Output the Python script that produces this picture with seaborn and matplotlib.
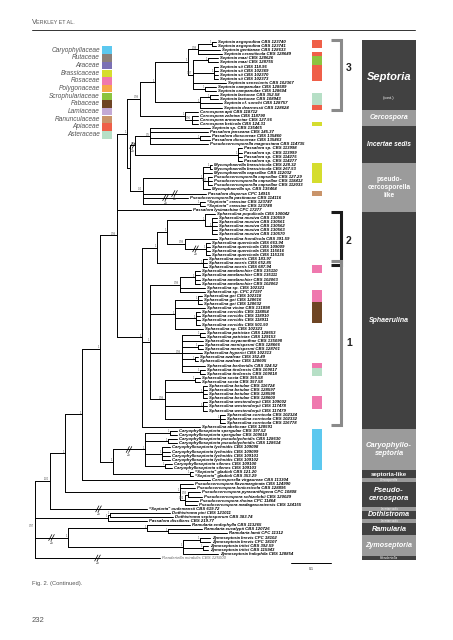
import numpy as np
import pandas as pd
import matplotlib
matplotlib.use("Agg")
import matplotlib.pyplot as plt
import seaborn as sns

sns.set_theme(style="white")
plt.rcParams['font.family'] = ['Liberation Sans', 'DejaVu Sans']

# ---------------- data ----------------
LEAF_LABELS = [
    "Septoria aegopodina CBS 123740", "Septoria aegopodina CBS 123741", "Septoria gentianae CBS 128633",
    "Septoria cerastiicola CBS 128649", "Septoria mazi CBS 128626", "Septoria mazi CBS 128755",
    "Septoria sii CBS 118.96", "Septoria sii CBS 102369", "Septoria sii CBS 102370", "Septoria sii CBS 102373",
    "Septoria senecionis CBS 102367", "Septoria campanulae CBS 128589", "Septoria campanulae CBS 128604",
    "Septoria lactucae CBS 352.58", "Septoria lactucae CBS 108943", "Septoria cf. sonchi CBS 128757",
    "Septoria dearnessii CBS 128624",
    "Cercospora apii CBS 118712", "Cercospora zebrina CBS 118790", "Cercospora armoraciae CBS 127.56",
    "Cercospora beticola CBS 124.31",
    "Septoria sp. CBS 135465", "Passalora janseana CBS 145.37", "Passalora dioscoreae CBS 135460",
    "Passalora dioscoreae CBS 135463", "Pseudocercosporella magnusiana CBS 114735",
    "Passalora sp. CBS 113998", "Passalora sp. CBS 113999", "Passalora sp. CBS 114275", "Passalora sp. CBS 114277",
    "Mycosphaerella brassicicola CBS 228.32", "Mycosphaerella brassicicola CBS 267.53",
    "Mycosphaerella capsellae CBS 112032", "Pseudocercosporella capsellae CBS 127.29",
    "Pseudocercosporella capsellae CBS 118412", "Pseudocercosporella capsellae CBS 112033",
    "Mycosphaerella sp. CBS 135464", "Passalora dispersa CPC 14915", "Pseudocercosporella pastinacae CBS 114116",
    "\u201cSeptoria\u201d crassiae CBS 123747", "\u201cSeptoria\u201d crassiae CBS 123748",
    "Passalora lysimachiae CPC 17277",
    "Sphaerulina populicola CBS 100042", "Sphaerulina musiva CBS 130559", "Sphaerulina musiva CBS 130561",
    "Sphaerulina musiva CBS 130562", "Sphaerulina musiva CBS 130563", "Sphaerulina musiva CBS 130570",
    "Sphaerulina frondicola CBS 391.59", "Sphaerulina quercicola CBS 663.94", "Sphaerulina quercicola CBS 109009",
    "Sphaerulina quercicola CBS 115016", "Sphaerulina quercicola CBS 115136", "Sphaerulina aceris CBS 183.97",
    "Sphaerulina aceris CBS 652.85", "Sphaerulina aceris CBS 687.94", "Sphaerulina amelanchier CBS 135110",
    "Sphaerulina amelanchier CBS 135111", "Sphaerulina amelanchier CBS 102063", "Sphaerulina amelanchier CBS 102062",
    "Sphaerulina sp. CBS 102321", "Sphaerulina sp. CPC 27197", "Sphaerulina gei CBS 102318",
    "Sphaerulina gei CBS 128616", "Sphaerulina gei CBS 128632", "Sphaerulina viciae CBS 131898",
    "Sphaerulina cercidis CBS 118854", "Sphaerulina cercidis CBS 118910", "Sphaerulina cercidis CBS 118911",
    "Sphaerulina cercidis CBS 501.50", "Sphaerulina sp. CBS 102323", "Sphaerulina patriciae CBS 128653",
    "Sphaerulina patriciae CBS 129153", "Sphaerulina oxyacanthae CBS 135098", "Sphaerulina menispermi CBS 128666",
    "Sphaerulina menispermi CBS 128761", "Sphaerulina hyperici CBS 102313", "Sphaerulina azaleae CBS 352.49",
    "Sphaerulina azaleae CBS 128605", "Sphaerulina berberidis CBS 324.52", "Sphaerulina tirolensis CBS 109017",
    "Sphaerulina tirolensis CBS 109018", "Sphaerulina socia CBS 355.58", "Sphaerulina socia CBS 357.58",
    "Sphaerulina betulae CBS 116724", "Sphaerulina betulae CBS 128597", "Sphaerulina betulae CBS 128598",
    "Sphaerulina betulae CBS 128600", "Sphaerulina westendorpii CBS 109002", "Sphaerulina westendorpii CBS 117478",
    "Sphaerulina westendorpii CBS 117479", "Sphaerulina cornicola CBS 102324", "Sphaerulina cornicola CBS 102332",
    "Sphaerulina cornicola CBS 116778", "Sphaerulina abeliceae CBS 128591",
    "Caryophylloseptoria spergulae CBS 397.52", "Caryophylloseptoria spergulae CBS 109010",
    "Caryophylloseptoria pseudolychnidis CBS 128630", "Caryophylloseptoria pseudolychnidis CBS 128614",
    "Caryophylloseptoria lychnidis CBS 109098", "Caryophylloseptoria lychnidis CBS 109099",
    "Caryophylloseptoria lychnidis CBS 109101", "Caryophylloseptoria lychnidis CBS 109102",
    "Caryophylloseptoria silenes CBS 109100", "Caryophylloseptoria silenes CBS 109103",
    "\u201cSeptoria\u201d gladioli CBS 121.20", "\u201cSeptoria\u201d gladioli CBS 353.29",
    "Cercosporella virgaureae CBS 113304",
    "Pseudocercospora flavomarginata CBS 124990", "Pseudocercospora lonicericola CBS 128895",
    "Pseudocercospora pyracanthigena CPC 10808", "Pseudocercospora schizolobii CBS 120029",
    "Pseudocercospora rhoina CPC 11464", "Pseudocercospora madagascariensis CBS 124155",
    "\u201cSeptoria\u201d oudemansii CBS 619.72",
    "Dothistroma pini CBS 121011", "Dothistroma septosporum CBS 383.74", "Passalora dissiliens CBS 219.77",
    "Ramularia endophylla CBS 113265", "Ramularia eucalypti CBS 120726", "Ramularia lamii CPC 11312",
    "Zymoseptoria brevis CPC 18102", "Zymoseptoria brevis CPC 18107", "Zymoseptoria tritici CBS 392.59",
    "Zymoseptoria tritici CBS 115943", "Zymoseptoria halophila CBS 128854",
    "Readeriella mirabilis CBS 125000",
]
OUTGROUP = [126]

# tree (Newick; leaf = index into LEAF_LABELS, internal label = posterior probability,
# branch lengths in subst./site, '#' = shortened branch drawn as "2x")
SEPT = ("((((0:0.01,1:0.01)1:0.035,2:0.055,3:0.06)0.98:0.025,((4:0.025,5:0.025)1:0.0375,"
        "(6:0.01,7:0.01,8:0.01,9:0.01)1:0.0525,10:0.0825,(11:0.0275,12:0.0275)1:0.03)0.87:0.0125)1:0.0825,"
        "((13:0.02,14:0.02)1:0.025,15:0.055,16:0.055)1:0.1125)")
CERC = "(17:0.0325,(18:0.015,19:0.015,20:0.015)0.96:0.0175)"
INC = ("((21:0.15,22:0.145,(23:0.025,24:0.025)1:0.125,25:0.145)0.9:0.0375,"
       "(26:0.01,27:0.01,28:0.01,29:0.01)1:0.2575)")
PSL = ("(((30:0.005,31:0.005)1:0.0175,32:0.0225,(33:0.01,34:0.01,35:0.01)0.97:0.0125,36:0.0175)1:0.15,"
       "37#:0.1575,38#:0.1125,(39:0.0125,40:0.0125)1:0.1425)")
SPH_A = ("(((42:0.025,(43:0.0125,44:0.0125,45:0.0125,46:0.0125,47:0.0125)1:0.0175)1:0.095,"
         "(48:0.08,(49:0.01,50:0.01,51:0.01,52:0.01)1#:0.0525)0.99:0.045)1:0.025,(53:0.01,54:0.01,55:0.01)1:0.115)")
SPH_B1 = "((56:0.0125,57:0.0125,58:0.0125,59:0.0125)1:0.0375,60:0.0625,61:0.0625)"
SPH_B2 = "((62:0.01,63:0.01,64:0.01)1:0.0575,65:0.075,(66:0.01,67:0.01,68:0.01,69:0.01)1:0.0525,70:0.07)"
SPH_B3 = ("((71:0.0125,72:0.0125)1:0.045,73:0.0525,(74:0.0125,75:0.0125)1:0.04,76:0.05,"
          "(77:0.0075,78:0.0075)1:0.0325,79:0.0575,(80:0.0125,81:0.0125)1:0.045)")
SPH_B4 = ("((82:0.0125,83:0.0125)1:0.075,(84:0.01,85:0.01,86:0.01,87:0.01)1:0.095,"
          "(88:0.01,89:0.01,90:0.01)1:0.095,(91:0.0125,92:0.0125,93:0.0125)1:0.1375)")
CARYO = ("((95:0.0175,96:0.0175)1:0.0625,(97:0.0225,98:0.0225)1:0.0575,"
         "(99:0.02,100:0.02,101:0.02,102:0.02)1:0.0425,(103:0.0175,104:0.0175)1:0.05)")
PSCP = "(108:0.0325,109:0.0375,((110:0.03,111:0.035)0.93:0.0075,112:0.0325,113:0.03)0.82:0.0125)"
DOTH = "((115:0.15,116:0.1575)1:0.005,117:0.0975)"
RAM = "(118:0.1075,(119:0.085,120:0.1475)1:0.0525)"
ZYM = "((121:0.025,122:0.025)1:0.0425,(123:0.0125,124:0.0125)1:0.05,125:0.0875)"

SPH_B = f"({SPH_B1}0.98:0.075,{SPH_B2}1:0.0625,{SPH_B3}0.99:0.08,{SPH_B4}0.99:0.0375)"
SPH = f"({SPH_A}1:0.0375,{SPH_B}1:0.02,94:0.145)"
SC = f"({SEPT}1:0.0375,{CERC}1:0.1125)"
REST = f"({INC}0.9#:0.0125,{PSL}0.4:0.0325)"
TOP = f"({SC}0.99:0.0325,{REST}:0.0075)"
UP5 = f"({TOP}1:0.025,41:0.185,{SPH}1:0.0625)"
CARYOGRP = f"({CARYO}1#:0.08,(105:0.0075,106:0.0075)1:0.1925)"
UP4 = f"({UP5}0.99:0.0425,{CARYOGRP}1:0.0325)"
UP3 = f"({UP4}1:0.045,107:0.32)"
UP2 = f"({UP3}1:0.0425,{PSCP}1:0.2875)"
UPPER = f"({UP2}1:0.0375,114#:0.2425)"
RZ = f"({RAM}1:0.1975,{ZYM}1:0.2875)"
LOWER = f"({DOTH}1:0.1825,{RZ}1#:0.0825)"
TREE = f"({UPPER}1.00:0.0375,{LOWER}0.97:0.0,126#:0.3125);"

HOST_FAMILIES = ["Caryophyllaceae", "Rutaceae", "Araceae", "Brassicaceae", "Rosaceae", "Polygonaceae",
                 "Scrophulariaceae", "Fabaceae", "Lamiaceae", "Ranunculaceae", "Apiaceae", "Asteraceae"]
HOST_COLORS = ["#5cc8ef", "#8c8079", "#7b70b4", "#d5dd2e", "#ef78ae", "#f6a64a",
               "#8cc43f", "#6e4524", "#c3a9d5", "#c9946a", "#ef5f48", "#b6dfc6"]
# (first leaf, last leaf, host family)
HOST_START = [0, 3, 4, 6, 13, 16, 20, 30, 37, 55, 61, 64, 79, 80, 87, 95]
HOST_END = [1, 3, 5, 9, 15, 16, 20, 34, 37, 56, 63, 68, 79, 81, 89, 104]
HOST_FAM = ["Apiaceae", "Apiaceae", "Scrophulariaceae", "Apiaceae", "Asteraceae", "Apiaceae", "Brassicaceae",
            "Brassicaceae", "Ranunculaceae", "Rosaceae", "Rosaceae", "Fabaceae", "Rosaceae", "Asteraceae",
            "Rosaceae", "Caryophyllaceae"]

BLOCK_LABELS = ["Septoria", "Cercospora", "Incertae sedis", "pseudo-\ncercosporella\nlike", "Sphaerulina",
                "Caryophyllo-\nseptoria", "septoria-like", "Cercosporella", "Pseudo-\ncercospora",
                "Incertae sedis", "Dothistroma", "Incertae sedis", "Ramularia", "Zymoseptoria", "Readeriella"]
BLOCK_START = [0, 17, 21, 30, 42, 95, 105, 107, 108, 114, 115, 117, 118, 121, 126]
BLOCK_END = [16, 20, 29, 41, 94, 104, 106, 107, 113, 114, 116, 117, 120, 125, 126]
BLOCK_DARK = [True, False, True, False, True, False, True, False, True, False, True, False, True, False, True]
BLOCK_SIZE = [8.0, 5.0, 4.8, 4.8, 5.0, 5.4, 4.4, 2.2, 5.4, 2.0, 5.1, 2.0, 5.2, 5.1, 2.6]
BLOCK_ITALIC = [True, True, True, False, True, True, False, True, True, True, True, True, True, True, True]

BRACKET_NAMES = ["3", "2", "1"]
BRACKET_START = [0, 42, 54]
BRACKET_END = [16, 54, 93]
BRACKET_LABEL_AT = [6.3, 48.5, 73.5]
BRACKET_COLORS = ["#8a8a8a", "#1a1a1a", "#8a8a8a"]

SCALE_VALUE = 0.1

# ---------------- tree parsing / layout ----------------
def parse_newick(s):
    s = "".join(s.split()).rstrip(";")
    pos = 0

    def node():
        nonlocal pos
        n = {"children": [], "label": "", "bl": 0.0}
        if s[pos] == "(":
            pos += 1
            while True:
                n["children"].append(node())
                if s[pos] == ",":
                    pos += 1
                    continue
                pos += 1
                break
        st = pos
        while pos < len(s) and s[pos] not in ":,()":
            pos += 1
        n["label"] = s[st:pos]
        if pos < len(s) and s[pos] == ":":
            pos += 1
            st = pos
            while pos < len(s) and s[pos] not in ",()":
                pos += 1
            n["bl"] = float(s[st:pos])
        return n
    return node()


root = parse_newick(TREE)
rows = []
breaks = []
supports = []
tips = {}
seg_id = [0]


def add_seg(x0, y0, x1, y1):
    rows.append((seg_id[0], x0, y0))
    rows.append((seg_id[0], x1, y1))
    seg_id[0] += 1


def layout(n, x0):
    n["x"] = x0 + n["bl"]
    if not n["children"]:
        idx = int(n["label"].rstrip("#"))
        n["y"] = float(idx)
        tips[idx] = n["x"]
    else:
        for c in n["children"]:
            layout(c, n["x"])
        n["y"] = (n["children"][0]["y"] + n["children"][-1]["y"]) / 2.0
        ys = [c["y"] for c in n["children"]]
        add_seg(n["x"], min(ys), n["x"], max(ys))
        for c in n["children"]:
            add_seg(n["x"], c["y"], c["x"], c["y"])
            if c["label"].endswith("#"):
                breaks.append(((n["x"] + c["x"]) / 2.0, c["y"]))
        sup = n["label"].rstrip("#")
        if sup:
            supports.append((n["x"], n["y"], sup))


layout(root, 0.0)
df = pd.DataFrame(rows, columns=["seg", "x", "y"])

# ---------------- figure ----------------
W, H = 453, 640
fig = plt.figure(figsize=(W / 100, H / 100), dpi=100)
PX_UNIT = 400.0      # pixels per substitution unit
X0, Y0 = 35.0, 42.0  # pixel position of root / first leaf
DY = (558.0 - Y0) / (len(LEAF_LABELS) - 1)

ax = fig.add_axes([0, 0, 1, 1])
sns.lineplot(data=df, x="x", y="y", units="seg", estimator=None, sort=False,
             color="black", linewidth=0.7, ax=ax, legend=False)
ax.set_xlim(-X0 / PX_UNIT, (W - X0) / PX_UNIT)
ax.set_ylim((H - Y0) / DY, -Y0 / DY)
ax.axis("off")


def px_x(p):
    return (p - X0) / PX_UNIT


# leaf labels
for i, lab in enumerate(LEAF_LABELS):
    if i in OUTGROUP:
        ax.text(tips[i] + 0.004, i, lab, fontsize=3.1, fontstyle="italic", color="#666666",
                va="center", ha="left")
    else:
        ax.text(tips[i] + 0.004, i, lab, fontsize=3.1, fontweight="bold", fontstyle="italic",
                color="black", va="center", ha="left")

# support values
for (sx, sy_, txt) in supports:
    ax.text(sx - 0.8 / PX_UNIT, sy_ - 1.6 / DY, txt, fontsize=1.9, color="#555555",
            ha="right", va="center")

# broken-branch marks
for (bx, by) in breaks:
    for off in (-1.2, 1.2):
        ax.plot([bx + (off - 1.6) / PX_UNIT, bx + (off + 1.6) / PX_UNIT],
                [by + 3.0 / DY, by - 3.0 / DY], color="black", lw=0.5)
    ax.text(bx, by + 5.5 / DY, "2x", fontsize=2.6, ha="center", va="center", color="#333333")

# host strip
fam_col = dict(zip(HOST_FAMILIES, HOST_COLORS))
for s0, s1, fam in zip(HOST_START, HOST_END, HOST_FAM):
    ax.barh((s0 + s1) / 2.0, width=10 / PX_UNIT, left=px_x(312), height=s1 - s0 + 1,
            color=fam_col[fam], linewidth=0)

# brackets
for name, s0, s1, at, col in zip(BRACKET_NAMES, BRACKET_START, BRACKET_END, BRACKET_LABEL_AT, BRACKET_COLORS):
    yt, yb = s0 - 0.5, s1 + 0.5
    xr = px_x(340.5)
    ax.plot([px_x(331), xr, xr, px_x(331)], [yt, yt, yb, yb], color=col, lw=2.2,
            solid_joinstyle="miter", solid_capstyle="butt")
    ax.text(px_x(346), at, name, fontsize=7.5, fontweight="bold", color="#222222",
            va="center", ha="left")

# genus blocks
for lab, s0, s1, dark, fs, it in zip(BLOCK_LABELS, BLOCK_START, BLOCK_END, BLOCK_DARK, BLOCK_SIZE, BLOCK_ITALIC):
    ax.barh((s0 + s1) / 2.0, width=54 / PX_UNIT, left=px_x(362), height=s1 - s0 + 1,
            color="#414141" if dark else "#9b9b9b", linewidth=0)
    yc = (s0 + s1) / 2.0
    if lab == "Septoria":
        ax.text(px_x(389), yc + 0.6, lab, fontsize=fs, fontweight="bold", fontstyle="italic",
                color="white", ha="center", va="center")
        ax.text(px_x(389), yc + 5.7, "(cont.)", fontsize=3.0, color="white", ha="center", va="center")
    else:
        ax.text(px_x(389), yc, lab, fontsize=fs, fontstyle="italic" if it else "normal",
                color="white", ha="center", va="center", linespacing=1.15,
                fontweight="semibold" if fs > 3 else "normal")

# scale bar
sy = (563 - Y0) / DY
ax.plot([px_x(291), px_x(291) + SCALE_VALUE], [sy, sy], color="black", lw=0.7)
ax.text(px_x(291) + SCALE_VALUE / 2, sy + 1.4, f"{SCALE_VALUE}", fontsize=2.6, ha="center", va="center")

# overlay for page furniture (pixel coordinates)
ov = fig.add_axes([0, 0, 1, 1])
ov.set_xlim(0, W)
ov.set_ylim(H, 0)
ov.axis("off")
ov.patch.set_alpha(0)

ov.text(32, 22, "V", fontsize=5.2, color="#555555", va="center", ha="left")
ov.text(36.2, 22.4, "ERKLEY ET AL.", fontsize=3.9, color="#555555", va="center", ha="left")
ov.plot([32, 415], [30, 30], color="#333333", lw=0.7)

for k, (fam, col) in enumerate(zip(HOST_FAMILIES, HOST_COLORS)):
    yy = 50 + k * 7.7
    ov.text(100, yy, fam, fontsize=4.7, fontstyle="italic", color="#555555", ha="right", va="center")
    ov.add_patch(plt.Rectangle((102, yy - 3.6), 10, 7.4, color=col, lw=0))

ov.text(32, 584, "Fig. 2. (Continued).", fontsize=4.2, color="#555555", ha="left", va="center")
ov.text(32, 620, "232", fontsize=5.5, color="#555555", ha="left", va="center")

fig.savefig("out.png", dpi=100)
